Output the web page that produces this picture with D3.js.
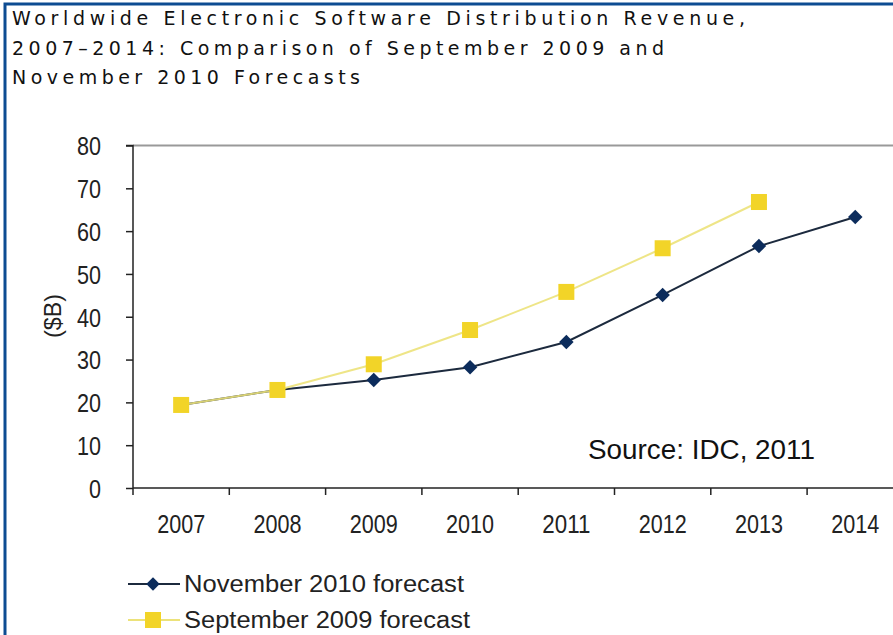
<!DOCTYPE html>
<html><head><meta charset="utf-8">
<script src="https://cdn.jsdelivr.net/npm/d3@7"></script>
<style>
html,body{margin:0;padding:0;background:#fff;overflow:hidden}
svg{display:block}
</style></head>
<body>
<svg id="chart" width="893" height="635"></svg>
<script>
const years = ["2007","2008","2009","2010","2011","2012","2013","2014"];
const nov2010 = [19.4, 22.9, 25.2, 28.2, 34.1, 45.1, 56.5, 63.3];
const sep2009 = [19.4, 22.9, 28.9, 36.9, 45.8, 56.0, 66.8, null];
const yTicks = [0,10,20,30,40,50,60,70,80];
const titleLines = ["Worldwide Electronic Software Distribution Revenue,",
  "2007\u20132014: Comparison of September 2009 and",
  "November 2010 Forecasts"];
const seriesNames = ["November 2010 forecast","September 2009 forecast"];

const svg = d3.select("#chart");
const navy = "#0c2c5c", navyLine = "#1c2a3e";
const yellow = "#f2d428", yellowLine = "#ece27a";
const FONT = "Liberation Sans, Arial, sans-serif";

// frame
svg.append("rect").attr("x",5).attr("y",4).attr("width",1000).attr("height",1000)
  .attr("fill","none").attr("stroke","#0d4c92").attr("stroke-width",3);

// title
const titleW = [733, 652, 348];
titleLines.forEach((t,i)=>{
  svg.append("text").attr("x",12).attr("y",25+i*29.5)
    .attr("font-family","DejaVu Sans, sans-serif").attr("font-size",19)
    .attr("fill","#111").attr("textLength",titleW[i]).attr("lengthAdjust","spacing")
    .text(t);
});

const x0 = 133, bandW = 96.3;
const x = d3.scaleBand().domain(years).range([x0, x0 + bandW*years.length]).paddingInner(0).paddingOuter(0);
const y = d3.scaleLinear().domain([0,80]).range([488,145.5]);

// top border line
svg.append("line").attr("x1",x0).attr("x2",893).attr("y1",y(80)).attr("y2",y(80))
  .attr("stroke","#999").attr("stroke-width",2);

// y axis
const yAxis = d3.axisLeft(y).tickValues(yTicks).tickSize(7).tickPadding(25);
const gy = svg.append("g").attr("transform",`translate(${x0},0)`).call(yAxis);
gy.select(".domain").attr("stroke","#222").attr("stroke-width",1.5).attr("d",`M-7,${y(80)}H0V${y(0)}`);
gy.selectAll(".tick line").attr("stroke","#222").attr("stroke-width",1.5);
gy.selectAll(".tick text").attr("font-family",FONT).attr("font-size",26).attr("fill","#222").attr("dy","0.36em")
  .attr("textLength",d=>String(d).length*12).attr("lengthAdjust","spacingAndGlyphs");

// x axis
const xAxis = d3.axisBottom(x).tickSize(0).tickPadding(27);
const gx = svg.append("g").attr("transform",`translate(0,${y(0)})`).call(xAxis);
gx.select(".domain").attr("stroke","#222").attr("stroke-width",1.5).attr("d",`M${x0},0H893`);
gx.selectAll(".tick text").attr("font-family",FONT).attr("font-size",26).attr("fill","#222")
  .attr("textLength",48).attr("lengthAdjust","spacingAndGlyphs");
// category boundary ticks
svg.append("g").selectAll("line").data(years).join("line")
  .attr("x1",d=>x(d)).attr("x2",d=>x(d)).attr("y1",y(0)).attr("y2",y(0)+7)
  .attr("stroke","#222").attr("stroke-width",1.5);

// y label
svg.append("text").attr("transform","translate(61,316) rotate(-90)")
  .attr("font-family",FONT).attr("text-anchor","middle").attr("font-size",24).attr("fill","#222")
  .attr("textLength",44).attr("lengthAdjust","spacingAndGlyphs").text("($B)");

const cx = d => x(d) + x.bandwidth()/2;
const line = d3.line().defined(d=>d[1]!=null).x(d=>cx(d[0])).y(d=>y(d[1]));

// series lines
svg.append("path").datum(years.map((yr,i)=>[yr,nov2010[i]])).attr("d",line)
  .attr("fill","none").attr("stroke",navyLine).attr("stroke-width",2);
svg.append("path").datum(years.map((yr,i)=>[yr,sep2009[i]])).attr("d",line)
  .attr("fill","none").attr("stroke",yellowLine).attr("stroke-width",2).attr("opacity",0.9);

// markers
svg.append("g").selectAll("path").data(years.map((yr,i)=>[yr,nov2010[i]]).filter(d=>d[1]!=null)).join("path")
  .attr("d",d3.symbol().type(d3.symbolSquare).size(105))
  .attr("transform",d=>`translate(${cx(d[0])},${y(d[1])}) rotate(45)`)
  .attr("fill",navy);
svg.append("g").selectAll("rect").data(years.map((yr,i)=>[yr,sep2009[i]]).filter(d=>d[1]!=null)).join("rect")
  .attr("x",d=>cx(d[0])-8).attr("y",d=>y(d[1])-8).attr("width",16).attr("height",16)
  .attr("fill",yellow);

// source
svg.append("text").attr("x",588).attr("y",459).attr("font-family",FONT)
  .attr("font-size",27).attr("fill","#111").attr("textLength",227).attr("lengthAdjust","spacingAndGlyphs")
  .text("Source: IDC, 2011");

// legend
const lg = svg.append("g");
const legY = [584, 620];
lg.append("line").attr("x1",128).attr("x2",180).attr("y1",legY[0]).attr("y2",legY[0]).attr("stroke",navyLine).attr("stroke-width",2);
lg.append("path").attr("d",d3.symbol().type(d3.symbolSquare).size(90)).attr("transform",`translate(153,${legY[0]}) rotate(45)`).attr("fill",navy);
lg.append("line").attr("x1",128).attr("x2",180).attr("y1",legY[1]).attr("y2",legY[1]).attr("stroke",yellowLine).attr("stroke-width",2);
lg.append("rect").attr("x",145).attr("y",legY[1]-8).attr("width",16).attr("height",16).attr("fill",yellow);
seriesNames.forEach((n,i)=>{
  lg.append("text").attr("x",184).attr("y",legY[i]).attr("dy","0.36em")
    .attr("font-family",FONT).attr("font-size",23).attr("fill","#222")
    .attr("textLength",i==0?280:286).attr("lengthAdjust","spacingAndGlyphs").text(n);
});
</script>
</body></html>
